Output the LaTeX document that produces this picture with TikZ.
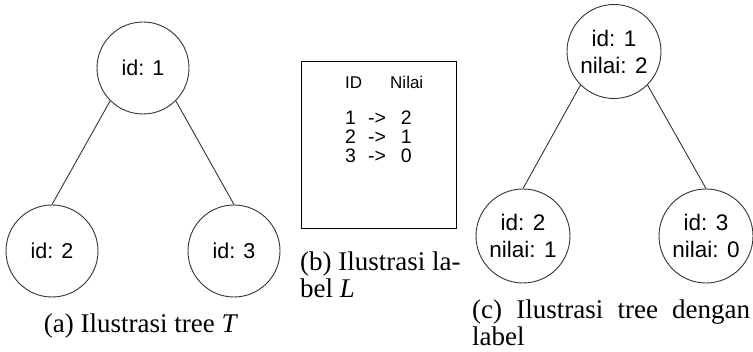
\documentclass[tikz,border=0pt]{standalone}
\usepackage{fontspec}
\setmainfont{Liberation Serif}
\setsansfont{Liberation Sans}
\definecolor{stroke}{HTML}{333333}
\begin{document}
\begin{tikzpicture}[x=1pt,y=-1pt,
  treenode/.style={circle,draw=stroke,line width=0.9pt,minimum size=92pt,inner sep=0pt,
    align=center,font=\sffamily\fontsize{21.5}{25}\selectfont},
  labelnode/.style={treenode,minimum size=94pt,font=\sffamily\fontsize{22.5}{27}\selectfont},
  edge/.style={draw=stroke,line width=0.9pt},
  caption/.style={inner sep=0pt,font=\rmfamily\fontsize{27}{28}\selectfont},
  tablehead/.style={inner sep=0pt,anchor=base west,font=\sffamily\fontsize{17}{20}\selectfont},
  tablerow/.style={inner sep=0pt,anchor=base west,font=\sffamily\fontsize{19.5}{20}\selectfont},
]
\useasboundingbox (0,0) rectangle (753,352);

% (a) tree T
\node[treenode] (a1) at (143,68) {id: 1};
\node[treenode] (a2) at (52,251) {id: 2};
\node[treenode] (a3) at (234,251) {id: 3};
\draw[edge] (a1.south west) -- (a2.north);
\draw[edge] (a1.south east) -- (a3.north);
\node[caption,anchor=base] (capa) at (141,333) {(a) Ilustrasi tree \textit{T}};

% (b) label L
\node[draw=black,line width=0.9pt,minimum width=155pt,minimum height=167pt,inner sep=0pt] (box) at (378.5,144.5) {};
\node[tablehead] (hid) at (345,89) {ID};
\node[tablehead] (hval) at (390,89) {Nilai};
\node[tablerow] (r1) at (345,125) {1\hspace{12pt}->\hspace{15pt}2};
\node[tablerow] (r2) at (345,144) {2\hspace{12pt}->\hspace{15pt}1};
\node[tablerow] (r3) at (345,163) {3\hspace{12pt}->\hspace{15pt}0};
\node[caption,anchor=base west] (capb) at (300,271)
  {\vtop{\baselineskip=27pt\hbox{(b) Ilustrasi la-}\hbox{bel \textit{L}}}};

% (c) tree with labels
\node[labelnode] (c1) at (614,51.5) {id: 1\\nilai: 2};
\node[labelnode] (c2) at (523,236) {id: 2\\nilai: 1};
\node[labelnode] (c3) at (706,236) {id: 3\\nilai: 0};
\draw[edge] (c1.south west) -- (c2.north);
\draw[edge] (c1.south east) -- (c3.north);
\node[caption,anchor=base west] (capc) at (472,319)
  {\vtop{\baselineskip=26.5pt\hbox to 278pt{(c)\hfill Ilustrasi\hfill tree\hfill dengan}\hbox{label}}};
\end{tikzpicture}
\end{document}
